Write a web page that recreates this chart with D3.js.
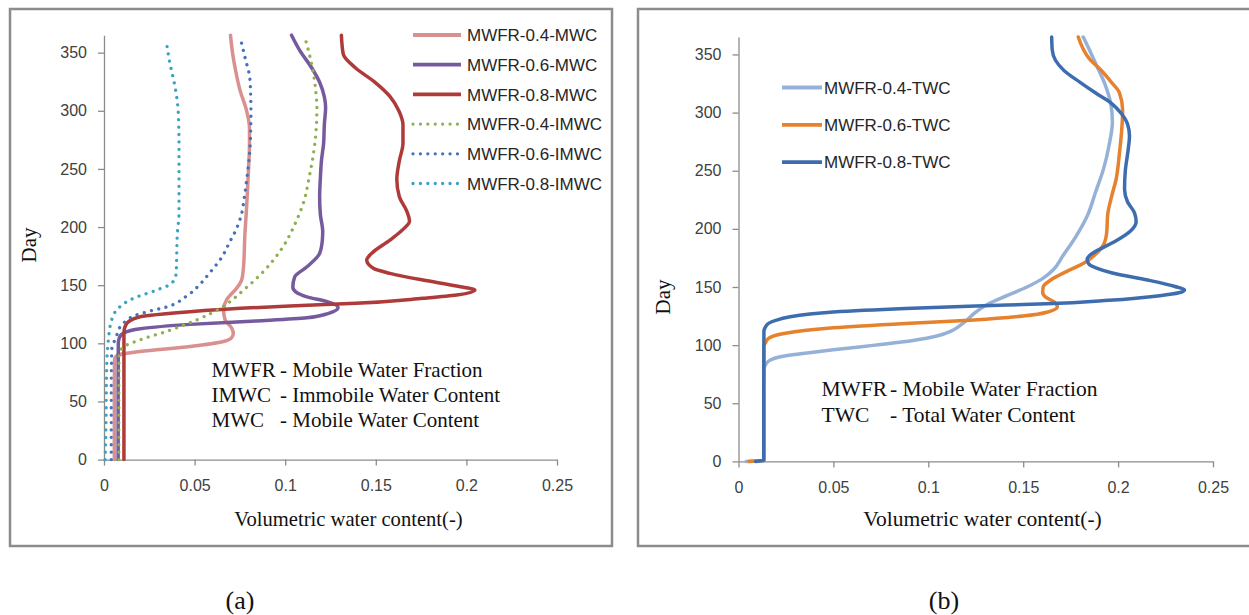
<!DOCTYPE html>
<html>
<head>
<meta charset="utf-8">
<script src="https://cdn.jsdelivr.net/npm/d3@7"></script>
<style>
  body { margin: 0; background: #fff; }
  svg { display: block; }
</style>
</head>
<body>
<svg id="chart" width="1249" height="615"></svg>
<script>
// Water-content profiles over one year, as [day, volumetric water content] pairs.

// (a) mobile (MWC) and immobile (IMWC) water content
const mwc04 = [[0,0.0057],[60,0.0057],[86,0.0058],[89,0.0068],[91,0.0105],[93,0.0199],[97.3,0.0475],[101.6,0.066],[105,0.0705],[108.8,0.0714],[113,0.0705],[120.3,0.0668],[128.9,0.066],[137.5,0.0677],[147.5,0.0733],[154.7,0.076],[166,0.077],[195,0.0778],[212,0.0785],[226,0.079],[241.6,0.0795],[257,0.08],[272,0.0803],[285,0.0803],[300,0.0787],[318,0.075],[334,0.0727],[349,0.071],[365,0.0698]];
const mwc06 = [[0,0.0078],[60,0.0078],[100,0.0079],[105,0.0085],[109,0.011],[112.6,0.02],[116.3,0.0475],[119.3,0.084],[122,0.112],[125.6,0.1236],[130.8,0.1292],[135.6,0.1236],[140,0.112],[144,0.106],[148.5,0.1042],[157,0.1052],[165.8,0.112],[177.3,0.119],[188.8,0.1205],[196,0.1207],[211,0.1194],[226,0.119],[241.6,0.1194],[257,0.12],[272,0.1212],[288,0.1216],[303,0.1223],[312,0.1216],[324.5,0.119],[337,0.1146],[352,0.108],[365,0.1035]];
const mwc08 = [[0,0.011],[60,0.011],[108,0.011],[112,0.0112],[115,0.0118],[118.6,0.0135],[122.9,0.0199],[127.2,0.0475],[130.1,0.0751],[132.1,0.1026],[134.4,0.139],[138.7,0.176],[141.5,0.1946],[145.8,0.2047],[149.3,0.1946],[154.4,0.176],[160.2,0.1578],[164.5,0.1486],[171.6,0.145],[177.4,0.1477],[188.8,0.1578],[198,0.165],[205,0.1686],[214,0.167],[226,0.163],[241,0.1616],[257,0.163],[272,0.165],[288,0.165],[300,0.1627],[312,0.158],[324.5,0.1496],[337,0.1387],[349,0.132],[365,0.131]];
const imwc04 = [[0,0.0082],[60,0.0082],[90,0.0083],[94,0.0092],[97,0.0107],[102.8,0.0195],[110,0.034],[120,0.051],[131,0.065],[145.8,0.077],[160.2,0.087],[180,0.0975],[203,0.1055],[223,0.1105],[245,0.1135],[260,0.1153],[278.5,0.1168],[303,0.1175],[318,0.1168],[340,0.1146],[360,0.1114]];
const imwc06 = [[0,0.004],[60,0.004],[95,0.0043],[103,0.006],[110,0.0078],[114,0.0088],[119,0.012],[124,0.0171],[128,0.026],[131,0.034],[140,0.045],[150,0.0525],[160,0.058],[174,0.065],[186,0.069],[200,0.0735],[212,0.076],[226,0.0775],[240,0.0787],[269,0.0806],[298,0.0811],[326,0.0806],[346,0.0778],[364,0.075]];
const imwc08 = [[0,0.0006],[22,0.001],[80,0.0015],[102.8,0.0024],[120,0.0042],[131.5,0.0088],[138.7,0.0162],[145.8,0.0291],[151.6,0.0374],[160.2,0.0398],[194.8,0.0405],[211.8,0.0414],[240,0.0414],[269,0.0414],[297.8,0.041],[320.6,0.0392],[340.7,0.0364],[361,0.0342]];

// (b) total water content (TWC)
const twc04 = [[0,0.004],[1,0.0133],[60,0.0133],[79,0.0134],[83,0.0142],[87,0.0165],[90,0.022],[93,0.035],[96,0.05],[100,0.072],[104,0.092],[108,0.105],[112,0.112],[116,0.116],[121,0.12],[127,0.124],[135,0.131],[143,0.142],[150,0.152],[157,0.16],[165,0.166],[177,0.171],[194,0.178],[212,0.184],[231,0.188],[252,0.1924],[274,0.1955],[292,0.197],[308,0.1961],[323,0.1934],[342,0.1882],[357,0.184],[365,0.1816]];
const twc06 = [[0,0.0055],[1,0.0133],[60,0.0133],[99,0.0134],[102,0.0142],[106,0.016],[110,0.024],[115,0.05],[118.7,0.088],[121.6,0.124],[125,0.15],[128.5,0.163],[133,0.168],[137,0.1665],[141,0.162],[145,0.1603],[150,0.1605],[156,0.1645],[163,0.1725],[171,0.1825],[178,0.188],[187,0.1925],[197,0.194],[212,0.1945],[228,0.1966],[243,0.199],[265,0.2007],[283,0.2018],[302,0.2024],[317,0.2007],[326,0.1965],[336,0.1913],[346,0.185],[365,0.179]];
const twc08 = [[0,0.009],[1,0.0133],[60,0.0133],[112,0.0134],[115,0.014],[118.7,0.0158],[121.5,0.02],[124,0.026],[128.5,0.05],[131.5,0.088],[133.7,0.125],[135.5,0.162],[138.5,0.195],[142.5,0.222],[145,0.232],[147.5,0.235],[150.4,0.23],[156,0.2155],[162,0.197],[166,0.189],[170,0.1845],[174,0.1837],[179,0.1865],[188,0.197],[198,0.2064],[206,0.2095],[214,0.2086],[223,0.205],[234,0.2034],[250,0.2038],[268,0.2053],[280,0.206],[290,0.205],[299,0.2018],[308,0.1965],[317,0.188],[326,0.18],[336,0.1716],[345,0.167],[354,0.1653],[365,0.165]];

// Axes
const dayTicks = [0, 50, 100, 150, 200, 250, 300, 350];
const vwcTicks = [0, 0.05, 0.1, 0.15, 0.2, 0.25];
const vwcTickLabels = ["0", "0.05", "0.1", "0.15", "0.2", "0.25"];

const panelA = {
  box: [10, 9, 602, 537],
  x: [104, 557], y: [459.6, 35.2],
  series: [
    { name: "MWFR-0.4-MWC",  data: mwc04,  color: "#D9908F", dotted: false },
    { name: "MWFR-0.6-MWC",  data: mwc06,  color: "#765A9E", dotted: false },
    { name: "MWFR-0.8-MWC",  data: mwc08,  color: "#AE3B39", dotted: false },
    { name: "MWFR-0.4-IMWC", data: imwc04, color: "#8FB050", dotted: true },
    { name: "MWFR-0.6-IMWC", data: imwc06, color: "#4472B8", dotted: true },
    { name: "MWFR-0.8-IMWC", data: imwc08, color: "#3AA2C2", dotted: true }
  ],
  legend: { x1: 413, x2: 461, tx: 467, y0: 35, dy: 29.7 },
  notes: { size: 21, ax: 211.5, dx: 280, y0: 377, dy: 25,
    rows: [["MWFR", "- Mobile Water Fraction"], ["IMWC", "- Immobile Water Content"], ["MWC", "- Mobile Water Content"]] },
  title: { x: 348.5, y: 526, size: 20.6 },
  day: { x: 36, y: 245 },
  tag: { x: 240, text: "(a)" }
};

const panelB = {
  box: [638, 9, 640, 537],
  x: [738.5, 1213], y: [461.4, 37],
  series: [
    { name: "MWFR-0.4-TWC", data: twc04, color: "#95B1D8", dotted: false },
    { name: "MWFR-0.6-TWC", data: twc06, color: "#E6822E", dotted: false },
    { name: "MWFR-0.8-TWC", data: twc08, color: "#3E6DAF", dotted: false }
  ],
  legend: { x1: 782, x2: 822, tx: 824, y0: 87.5, dy: 37.3 },
  notes: { size: 21.5, ax: 821.5, dx: 890, y0: 396, dy: 25.7,
    rows: [["MWFR", "- Mobile Water Fraction"], ["TWC", "- Total Water Content"]] },
  title: { x: 982.5, y: 526, size: 21.5 },
  day: { x: 670, y: 297 },
  tag: { x: 944, text: "(b)" }
};

const svg = d3.select("#chart");
const sans = "'Liberation Sans', Arial, sans-serif";
const serif = "'Liberation Serif', 'Times New Roman', serif";

function drawPanel(p) {
  const g = svg.append("g");
  const [bx, by, bw, bh] = p.box;
  g.append("rect").attr("x", bx).attr("y", by).attr("width", bw).attr("height", bh)
    .attr("fill", "#fff").attr("stroke", "#8C8C8C").attr("stroke-width", 2.5);

  const xs = d3.scaleLinear().domain([0, 0.25]).range(p.x);
  const ys = d3.scaleLinear().domain([0, 365]).range(p.y);

  const yAxis = d3.axisLeft(ys).tickValues(dayTicks).tickFormat(d3.format("d"))
    .tickSize(6).tickSizeOuter(0).tickPadding(11);
  const xAxis = d3.axisBottom(xs).tickValues(vwcTicks)
    .tickFormat((d, i) => vwcTickLabels[i]).tickSize(6).tickSizeOuter(0).tickPadding(14);

  const ya = g.append("g").attr("transform", `translate(${p.x[0]},0)`).call(yAxis);
  const xa = g.append("g").attr("transform", `translate(0,${p.y[0]})`).call(xAxis);
  [ya, xa].forEach(a => {
    a.select(".domain").attr("stroke", "#8C8C8C").attr("stroke-width", 1.3);
    a.selectAll(".tick line").attr("stroke", "#8C8C8C").attr("stroke-width", 1.3);
    a.selectAll(".tick text").attr("fill", "#404040")
      .style("font-family", sans).style("font-size", "16px");
  });

  // profiles are single-valued in day, so a curve monotone along the day axis avoids overshoot
  const line = d3.line()
    .x(d => xs(d[1])).y(d => ys(d[0]))
    .curve(d3.curveMonotoneY);

  p.series.forEach(s => {
    const path = g.append("path").datum(s.data)
      .attr("d", line).attr("fill", "none")
      .attr("stroke", s.color).attr("stroke-linejoin", "round");
    if (s.dotted) {
      path.attr("stroke-width", 3.3).attr("stroke-linecap", "round")
        .attr("stroke-dasharray", "0.01 7.4");
    } else {
      path.attr("stroke-width", 3.5).attr("stroke-linecap", "round");
    }
  });

  // legend
  const L = p.legend;
  p.series.forEach((s, i) => {
    const y = L.y0 + i * L.dy;
    const ln = g.append("line").attr("x1", L.x1).attr("x2", L.x2).attr("y1", y).attr("y2", y)
      .attr("stroke", s.color);
    if (s.dotted) {
      ln.attr("stroke-width", 3.3).attr("stroke-linecap", "round").attr("stroke-dasharray", "0.01 7.4");
    } else {
      ln.attr("stroke-width", 3.8);
    }
    g.append("text").attr("x", L.tx).attr("y", y).attr("dy", "0.36em")
      .attr("fill", "#262626").style("font-family", sans).style("font-size", "17px")
      .text(s.name);
  });

  // abbreviation notes
  const N = p.notes;
  N.rows.forEach((r, i) => {
    const y = N.y0 + i * N.dy;
    g.append("text").attr("x", N.ax).attr("y", y).attr("fill", "#111")
      .style("font-family", serif).style("font-size", N.size + "px").text(r[0]);
    g.append("text").attr("x", N.dx).attr("y", y).attr("fill", "#111")
      .style("font-family", serif).style("font-size", N.size + "px").text(r[1]);
  });

  // axis titles
  g.append("text").attr("x", p.title.x).attr("y", p.title.y).attr("text-anchor", "middle")
    .attr("fill", "#111").style("font-family", serif).style("font-size", p.title.size + "px")
    .text("Volumetric water content(-)");
  g.append("text").attr("transform", `translate(${p.day.x},${p.day.y}) rotate(-90)`)
    .attr("text-anchor", "middle").attr("fill", "#111")
    .style("font-family", serif).style("font-size", "21px").text("Day");

  // panel tag
  svg.append("text").attr("x", p.tag.x).attr("y", 609).attr("text-anchor", "middle")
    .attr("fill", "#111").style("font-family", serif).style("font-size", "26px")
    .text(p.tag.text);
}

drawPanel(panelA);
drawPanel(panelB);
</script>
</body>
</html>
